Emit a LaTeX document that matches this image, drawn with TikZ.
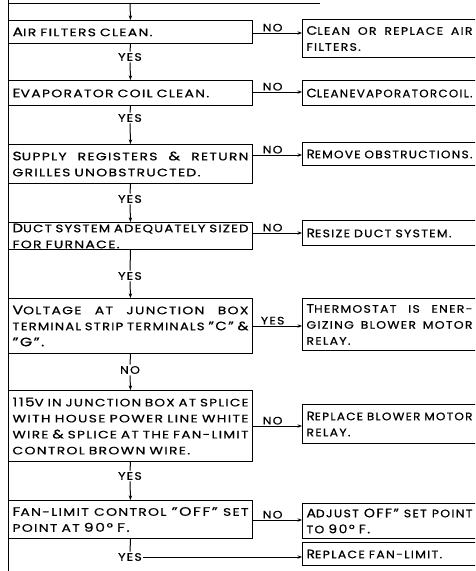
\documentclass[tikz,border=0pt]{standalone}
\usepackage{fontspec}
\usepackage{graphicx}
\usetikzlibrary{arrows.meta}
% wide, tracked sans for the checks and a slightly narrower cut for the remedies
\newfontfamily\popL[Ligatures=TeX,FakeStretch=1.29,LetterSpace=12,FakeBold=0.6]{Poppins}
\newfontfamily\popR[Ligatures=TeX,FakeStretch=1.15,LetterSpace=12,FakeBold=0.6]{Poppins}
\newcommand\leftfont{\popL\fontsize{12.2}{16}\selectfont}
\newcommand\rightfont{\popR\fontsize{12.2}{16}\selectfont}
\newcommand\labfont{\popR\fontsize{10.8}{11}\selectfont}
\newcommand\smc[1]{{\fontsize{10.8}{16}\selectfont #1}}
% justified line: stretch the word spaces, or squeeze the line if it is too long
\newsavebox\jlinebox
\newcommand\jl[2]{\sbox\jlinebox{\spaceskip=4pt\relax #2}%
  \ifdim\wd\jlinebox>#1\relax\resizebox{#1}{\height}{\usebox\jlinebox}%
  \else\makebox[#1][s]{\spaceskip=4pt plus 1fil\relax #2}\fi}
% ragged line kept within a given width
\newcommand\capw[2]{\sbox\jlinebox{#2}%
  \ifdim\wd\jlinebox>#1\relax\resizebox{#1}{\height}{\usebox\jlinebox}%
  \else\usebox\jlinebox\fi}
\begin{document}
\begin{tikzpicture}[x=1pt,y=-1pt,line width=1pt,
  lbox/.style={draw,rectangle,anchor=north west,inner xsep=4pt,inner ysep=0pt,
    text width=236pt,align=left,font=\leftfont},
  rbox/.style={draw,rectangle,anchor=north west,inner xsep=4pt,inner ysep=0pt,
    text width=200pt,align=left,font=\rightfont},
  lab/.style={font=\labfont,inner sep=1pt},
  arr/.style={-{Stealth[length=4.5pt,width=3.4pt]}}]
\useasboundingbox (0,0) rectangle (475,571);
\clip (0,0) rectangle (475,571);

% page border and the end of the preceding step
\draw (8,0) -- (8,571);
\draw (8,3) -- (320,3);
\coordinate (t0) at (130,3);

% checks (left column)
\node[lbox,minimum height=23pt] (b1) at (8,20) {A\smc{IR FILTERS CLEAN.}};
\node[lbox,minimum height=25pt] (b2) at (8,80) {E\smc{VAPORATOR COIL CLEAN.}};
\node[lbox,minimum height=39pt] (b3) at (8,144)
  {\jl{236pt}{S\smc{UPPLY REGISTERS} \& \smc{RETURN}}\\\smc{GRILLES UNOBSTRUCTED.}};
\node[lbox,minimum height=27pt] (b4) at (8,222)
  {\jl{236pt}{D\smc{UCT SYSTEM ADEQUATELY SIZED}}\\\smc{FOR FURNACE.}};
\node[lbox,minimum height=55pt] (b5) at (8,298)
  {\jl{236pt}{V\smc{OLTAGE AT JUNCTION BOX}}\\
   \jl{236pt}{\smc{TERMINAL STRIP TERMINALS} "C" \&}\\"G".};
\node[lbox,minimum height=71pt] (b6) at (8,390)
  {\jl{236pt}{115\smc{V IN JUNCTION BOX AT SPLICE}}\\
   \jl{236pt}{\smc{WITH HOUSE POWER LINE WHITE}}\\
   \jl{236pt}{\smc{WIRE} \& \smc{SPLICE AT THE FAN-LIMIT}}\\
   \smc{CONTROL BROWN WIRE.}};
\node[lbox,minimum height=38pt] (b7) at (8,500)
  {\jl{236pt}{F\smc{AN-LIMIT CONTROL} "OFF" \smc{SET}}\\\smc{POINT AT} 90° F.};

% remedies (right column)
\node[rbox,minimum height=38pt] (r1) at (302,19)
  {\jl{166pt}{C\smc{LEAN OR REPLACE AIR}}\\\smc{FILTERS.}};
\node[rbox,minimum height=25pt] (r2) at (302,80)
  {\resizebox{166pt}{\height}{C\smc{LEAN\hspace{1.5pt}EVAPORATOR\hspace{1.5pt}COIL.}}};
\node[rbox,minimum height=23pt] (r3) at (302,142) {\capw{166pt}{R\smc{EMOVE OBSTRUCTIONS.}}};
\node[rbox,minimum height=25pt] (r4) at (302,220) {\capw{166pt}{R\smc{ESIZE DUCT SYSTEM.}}};
\node[rbox,minimum height=52pt] (r5) at (302,298)
  {\jl{166pt}{T\smc{HERMOSTAT IS ENER-}}\\
   \jl{166pt}{\smc{GIZING BLOWER MOTOR}}\\\smc{RELAY.}};
\node[rbox,minimum height=39pt] (r6) at (302,404)
  {\jl{166pt}{R\smc{EPLACE BLOWER MOTOR}}\\\smc{RELAY.}};
\node[rbox,minimum height=35pt] (r7) at (302,503)
  {\jl{166pt}{A\smc{DJUST} OFF" \smc{SET POINT}}\\\smc{TO} 90° F.};
\node[rbox,minimum height=23pt] (r8) at (302,542) {\capw{166pt}{R\smc{EPLACE FAN-LIMIT.}}};

% answers on the main line
\node[lab] (y1) at (130,57) {YES};
\node[lab] (y2) at (130,118) {YES};
\node[lab] (y3) at (130,199) {YES};
\node[lab] (y4) at (130,276) {YES};
\node[lab] (n5) at (130,370) {NO};
\node[lab] (y6) at (130,476) {YES};
\node[lab] (y7) at (130,557) {YES};

% main line
\draw[arr] (t0) -- (b1.north);
\draw (b1.south) -- (y1.north);  \draw[arr] (y1.south) -- (b2.north);
\draw (b2.south) -- (y2.north);  \draw[arr] (y2.south) -- (b3.north);
\draw (b3.south) -- (y3.north);  \draw[arr] (y3.south) -- (b4.north);
\draw (b4.south) -- (y4.north);  \draw[arr] (y4.south) -- (b5.north);
\draw (b5.south) -- (n5.north);  \draw[arr] (n5.south) -- (b6.north);
\draw (b6.south) -- (y6.north);  \draw[arr] (y6.south) -- (b7.north);
\draw (b7.south) -- (y7.north);
\draw[arr] (y7.east) -- (r8.west |- y7.east);

% branches to the remedies
\draw[arr] (b1.east |- 0,33) -- node[lab,above,pos=0.4] {NO} (r1.west |- 0,33);
\draw[arr] (b2.east |- 0,92) -- node[lab,above,pos=0.4] {NO} (r2.west |- 0,92);
\draw[arr] (b3.east |- 0,155) -- node[lab,above,pos=0.4] {NO} (r3.west |- 0,155);
\draw[arr] (b4.east |- 0,233) -- node[lab,above,pos=0.4] {NO} (r4.west |- 0,233);
\draw[arr] (b5.east |- 0,326) -- node[lab,above,pos=0.4] {YES} (r5.west |- 0,326);
\draw[arr] (b6.east |- 0,426) -- node[lab,above,pos=0.4] {NO} (r6.west |- 0,426);
\draw[arr] (b7.east |- 0,520) -- node[lab,above,pos=0.4] {NO} (r7.west |- 0,520);
\end{tikzpicture}
\end{document}
